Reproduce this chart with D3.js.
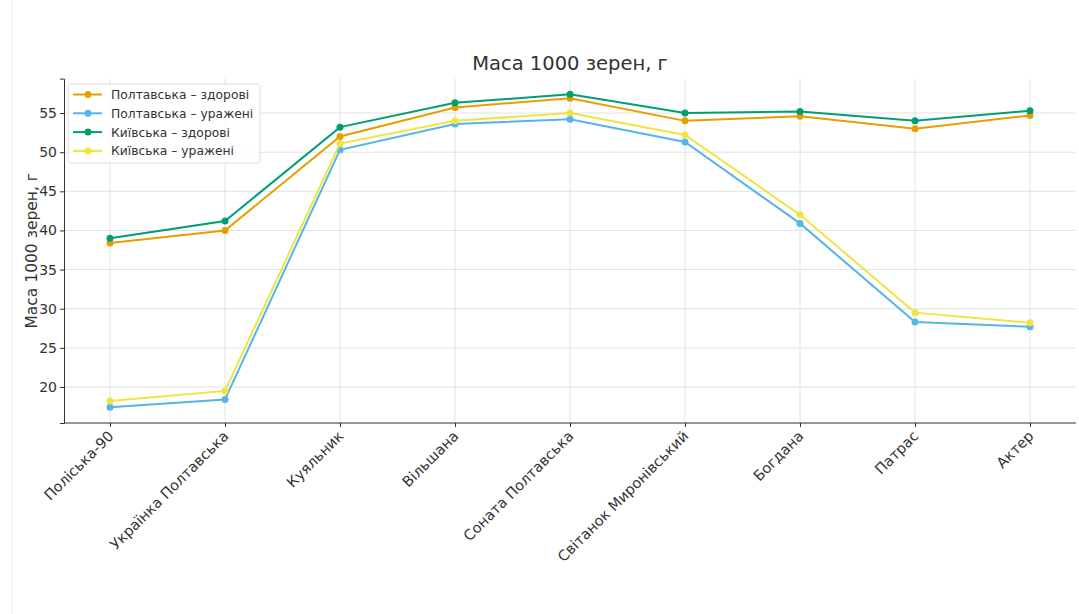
<!DOCTYPE html>
<html><head><meta charset="utf-8">
<script src="https://cdn.jsdelivr.net/npm/d3@7"></script>
<style>body{margin:0;background:#fff;} svg{display:block;font-family:"DejaVu Sans",sans-serif;}</style>
</head><body>
<svg id="c" width="1079" height="614"></svg>
<script>
const categories = ["Поліська-90","Українка Полтавська","Куяльник","Вільшана","Соната Полтавська","Світанок Миронівський","Богдана","Патрас","Актер"];
const poltavaHealthy = [38.4, 40.0, 52.0, 55.7, 56.9, 54.0, 54.6, 53.0, 54.7];
const poltavaInfected = [17.4, 18.4, 50.3, 53.6, 54.2, 51.3, 40.9, 28.3, 27.7];
const kyivHealthy = [39.0, 41.2, 53.2, 56.3, 57.4, 55.0, 55.2, 54.0, 55.3];
const kyivInfected = [18.2, 19.5, 51.1, 54.0, 55.0, 52.2, 42.0, 29.5, 28.2];
const seriesNames = ["Полтавська – здорові","Полтавська – уражені","Київська – здорові","Київська – уражені"];
const seriesColors = ["#E69F00","#56B4E9","#009E73","#F0E442"];
const yTicks = [20,25,30,35,40,45,50,55];
const title = "Маса 1000 зерен, г";
const yLabel = "Маса 1000 зерен, г";

const series = [poltavaHealthy, poltavaInfected, kyivHealthy, kyivInfected];
const svg = d3.select("#c");
const L = 64, R = 1076, T = 78.6, B = 423;
const all = series.flat();
const mn = d3.min(all), mx = d3.max(all), pad = (mx - mn) * 0.05;
const y = d3.scaleLinear().domain([mn - pad, mx + pad]).range([B, T]);
const x = d3.scalePoint().domain(categories).range([L, R]).padding(0.4);

// faint frame line at left
svg.append("line").attr("x1",12).attr("x2",12).attr("y1",0).attr("y2",614).attr("stroke","#eee").attr("stroke-width",1);

// grid
const g = svg.append("g");
g.selectAll(".hg").data(yTicks).join("line")
  .attr("x1",L).attr("x2",R).attr("y1",d=>y(d)).attr("y2",d=>y(d))
  .attr("stroke","#dadada").attr("stroke-width",0.8);
g.selectAll(".vg").data(categories).join("line")
  .attr("x1",d=>x(d)).attr("x2",d=>x(d)).attr("y1",T).attr("y2",B)
  .attr("stroke","#dadada").attr("stroke-width",0.8);

// axes
const yAxis = svg.append("g").attr("transform",`translate(${L},0)`)
  .call(d3.axisLeft(y).tickValues(yTicks).tickSize(4).tickPadding(3));
yAxis.select(".domain").attr("stroke","#333").attr("stroke-width",1);
yAxis.selectAll(".tick line").attr("stroke","#333");
yAxis.selectAll("text").attr("font-size",14).attr("fill","#333").attr("font-family","DejaVu Sans");

const xAxis = svg.append("g").attr("transform",`translate(0,${B})`)
  .call(d3.axisBottom(x).tickSize(4).tickSizeOuter(0));
xAxis.select(".domain").attr("stroke","#333").attr("stroke-width",1).attr("d",`M${L},0H${R}`);
xAxis.selectAll(".tick line").attr("stroke","#333");
xAxis.selectAll("text").attr("font-size",14.5).attr("fill","#333").attr("font-family","DejaVu Sans")
  .attr("text-anchor","end").attr("dy","0").attr("transform","translate(-1,9) rotate(-45)");

// lines
const line = d3.line().x((d,i)=>x(categories[i])).y(d=>y(d));
series.forEach((s,k)=>{
  svg.append("path").datum(s).attr("d",line).attr("fill","none")
    .attr("stroke",seriesColors[k]).attr("stroke-width",2);
  svg.append("g").selectAll("circle").data(s).join("circle")
    .attr("cx",(d,i)=>x(categories[i])).attr("cy",d=>y(d)).attr("r",3.5)
    .attr("fill",seriesColors[k]);
});

// title
svg.append("text").attr("x",(L+R)/2).attr("y",70).attr("text-anchor","middle")
  .attr("font-size",19.5).attr("fill","#333").text(title);
svg.append("text").attr("transform",`translate(37,${(T+B)/2}) rotate(-90)`)
  .attr("text-anchor","middle").attr("font-size",15.5).attr("fill","#333").text(yLabel);

// legend
const lg = svg.append("g");
lg.append("rect").attr("x",68).attr("y",84).attr("width",192).attr("height",79).attr("rx",3)
  .attr("fill","#fff").attr("fill-opacity",0.8).attr("stroke","#ddd");
seriesNames.forEach((n,k)=>{
  const yy = 94.5 + k*18.8;
  lg.append("line").attr("x1",73).attr("x2",102).attr("y1",yy).attr("y2",yy)
    .attr("stroke",seriesColors[k]).attr("stroke-width",2);
  lg.append("circle").attr("cx",88).attr("cy",yy).attr("r",3.5).attr("fill",seriesColors[k]);
  lg.append("text").attr("x",111).attr("y",yy+4.5).attr("font-size",12.3).attr("fill","#333").text(n);
});
</script>
</body></html>
